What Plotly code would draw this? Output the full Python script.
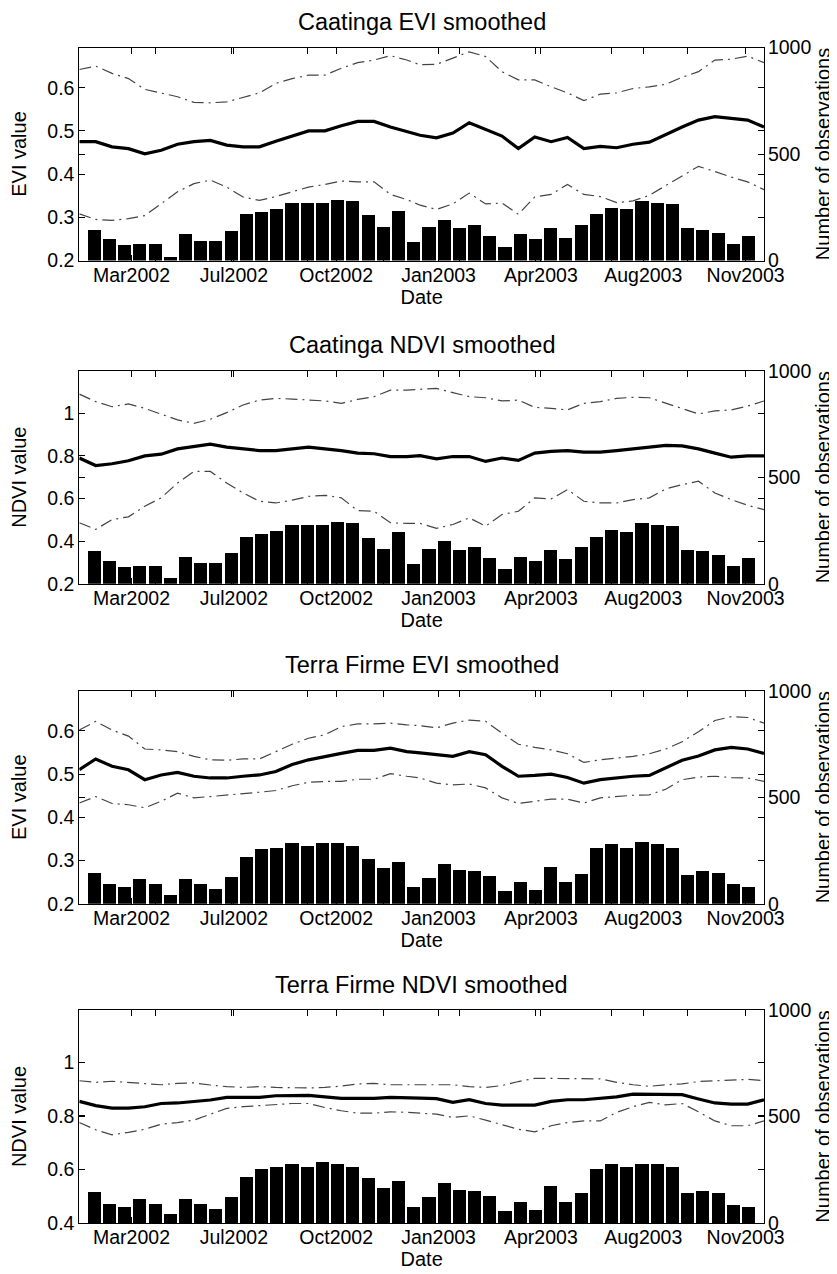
import datetime as dt
import plotly.graph_objects as go

# ---------------- data ----------------
# MODIS 16-day composite dates used by the smoothed curves
line_doy_2002 = list(range(33, 354, 16))
line_doy_2003 = list(range(1, 338, 16))
line_dates = ([dt.date(2002, 1, 1) + dt.timedelta(days=d - 1) for d in line_doy_2002] +
              [dt.date(2003, 1, 1) + dt.timedelta(days=d - 1) for d in line_doy_2003])

# bar (observation count) index
bar_index = list(range(1, 45))

tick_dates = ["2002-03-25", "2002-07-03", "2002-10-11", "2003-01-19",
              "2003-04-29", "2003-08-07", "2003-11-15"]
tick_labels = ["Mar2002", "Jul2002", "Oct2002", "Jan2003", "Apr2003", "Aug2003", "Nov2003"]

# Caatinga EVI
caat_evi_mean = [0.475, 0.475, 0.463, 0.459, 0.447, 0.455, 0.469, 0.475, 0.478, 0.467, 0.463,
                 0.463, 0.476, 0.488, 0.500, 0.500, 0.512, 0.522, 0.522, 0.509, 0.498,
                 0.490, 0.484, 0.495, 0.519, 0.503, 0.488, 0.459, 0.486, 0.475, 0.485,
                 0.459, 0.464, 0.461, 0.469, 0.474, 0.492, 0.509, 0.525, 0.533, 0.529, 0.525, 0.509]
caat_evi_upper = [0.642, 0.650, 0.633, 0.621, 0.596, 0.587, 0.579, 0.566, 0.565, 0.567, 0.577,
                  0.588, 0.610, 0.621, 0.629, 0.629, 0.645, 0.658, 0.664, 0.674, 0.664,
                  0.653, 0.654, 0.668, 0.683, 0.672, 0.637, 0.618, 0.618, 0.602, 0.588,
                  0.570, 0.585, 0.588, 0.598, 0.602, 0.608, 0.624, 0.637, 0.664, 0.666, 0.673, 0.658]
caat_evi_lower = [0.308, 0.295, 0.293, 0.297, 0.304, 0.331, 0.359, 0.378, 0.386, 0.370, 0.347,
                  0.339, 0.348, 0.359, 0.370, 0.376, 0.384, 0.382, 0.382, 0.353, 0.341,
                  0.328, 0.318, 0.331, 0.356, 0.331, 0.333, 0.307, 0.347, 0.353, 0.376,
                  0.353, 0.348, 0.334, 0.338, 0.351, 0.374, 0.397, 0.418, 0.406, 0.393, 0.382, 0.364]
caat_evi_nobs = [147, 102, 74, 82, 82, 20, 125, 94, 94, 139, 221, 229, 243, 274, 274, 274, 288,
                 281, 215, 161, 237, 88, 159, 194, 154, 169, 118, 66, 125, 102, 154, 110, 169,
                 221, 251, 243, 282, 274, 266, 154, 147, 133, 82, 118]

# Caatinga NDVI
caat_ndvi_mean = [0.790, 0.755, 0.763, 0.777, 0.800, 0.808, 0.833, 0.844, 0.855, 0.841, 0.833,
                  0.825, 0.825, 0.833, 0.841, 0.833, 0.825, 0.813, 0.810, 0.797, 0.797,
                  0.801, 0.786, 0.797, 0.797, 0.774, 0.790, 0.779, 0.813, 0.821, 0.825,
                  0.818, 0.818, 0.825, 0.833, 0.841, 0.849, 0.847, 0.833, 0.813, 0.794, 0.800, 0.800]
caat_ndvi_upper = [1.090, 1.055, 1.031, 1.044, 1.023, 0.997, 0.969, 0.953, 0.972, 1.003, 1.039,
                   1.062, 1.070, 1.067, 1.062, 1.058, 1.047, 1.065, 1.078, 1.109, 1.109,
                   1.114, 1.117, 1.097, 1.078, 1.073, 1.058, 1.062, 1.028, 1.023, 1.016,
                   1.047, 1.055, 1.070, 1.075, 1.073, 1.047, 1.023, 0.997, 1.011, 1.016, 1.034, 1.058]
caat_ndvi_lower = [0.486, 0.455, 0.501, 0.514, 0.564, 0.603, 0.673, 0.727, 0.727, 0.673, 0.626,
                   0.587, 0.579, 0.592, 0.610, 0.615, 0.603, 0.543, 0.540, 0.486, 0.483,
                   0.483, 0.460, 0.478, 0.509, 0.470, 0.525, 0.540, 0.603, 0.598, 0.642,
                   0.587, 0.579, 0.579, 0.595, 0.603, 0.645, 0.665, 0.681, 0.626, 0.595, 0.568, 0.548]
caat_ndvi_nobs = [153, 109, 78, 86, 86, 28, 129, 98, 98, 145, 223, 234, 250, 278, 278, 278, 292,
                  285, 218, 165, 242, 94, 165, 204, 161, 173, 122, 70, 129, 106, 158, 117, 173,
                  223, 254, 246, 285, 278, 270, 161, 153, 137, 86, 122]

# Terra Firme EVI
tf_evi_mean = [0.510, 0.535, 0.518, 0.510, 0.487, 0.498, 0.504, 0.495, 0.491, 0.491, 0.495,
               0.498, 0.506, 0.522, 0.533, 0.541, 0.548, 0.555, 0.555, 0.560, 0.552,
               0.549, 0.545, 0.541, 0.552, 0.545, 0.518, 0.495, 0.497, 0.500, 0.492,
               0.479, 0.487, 0.491, 0.495, 0.497, 0.514, 0.532, 0.542, 0.556, 0.562, 0.558, 0.548]
tf_evi_upper = [0.602, 0.622, 0.602, 0.588, 0.558, 0.556, 0.552, 0.541, 0.533, 0.532, 0.535,
                0.535, 0.552, 0.569, 0.583, 0.591, 0.610, 0.616, 0.616, 0.618, 0.614,
                0.612, 0.607, 0.618, 0.625, 0.622, 0.595, 0.569, 0.562, 0.556, 0.547,
                0.527, 0.533, 0.537, 0.541, 0.547, 0.558, 0.575, 0.598, 0.624, 0.633, 0.631, 0.618]
tf_evi_lower = [0.433, 0.448, 0.432, 0.429, 0.422, 0.437, 0.456, 0.445, 0.448, 0.451, 0.454,
                0.458, 0.462, 0.473, 0.481, 0.483, 0.483, 0.488, 0.488, 0.501, 0.495,
                0.491, 0.479, 0.475, 0.477, 0.468, 0.445, 0.432, 0.437, 0.442, 0.442,
                0.433, 0.445, 0.448, 0.451, 0.452, 0.465, 0.487, 0.493, 0.495, 0.492, 0.491, 0.483]
tf_evi_nobs = [145, 95, 80, 117, 95, 44, 117, 95, 72, 129, 220, 257, 265, 285, 270, 285, 285,
               270, 212, 168, 198, 80, 123, 190, 161, 153, 133, 59, 103, 67, 176, 103, 140,
               265, 281, 265, 289, 281, 265, 137, 156, 145, 95, 78]

# Terra Firme NDVI
tf_ndvi_mean = [0.854, 0.838, 0.829, 0.829, 0.834, 0.846, 0.848, 0.853, 0.859, 0.869, 0.869,
                0.869, 0.875, 0.876, 0.876, 0.871, 0.865, 0.865, 0.865, 0.869, 0.866,
                0.866, 0.864, 0.850, 0.860, 0.846, 0.840, 0.840, 0.840, 0.854, 0.860,
                0.860, 0.865, 0.871, 0.881, 0.881, 0.881, 0.879, 0.863, 0.848, 0.844, 0.844, 0.860]
tf_ndvi_upper = [0.931, 0.925, 0.929, 0.925, 0.919, 0.916, 0.921, 0.923, 0.915, 0.909, 0.906,
                 0.909, 0.906, 0.904, 0.904, 0.906, 0.911, 0.919, 0.921, 0.916, 0.916,
                 0.916, 0.916, 0.916, 0.909, 0.906, 0.913, 0.928, 0.940, 0.940, 0.940,
                 0.940, 0.938, 0.925, 0.916, 0.910, 0.916, 0.919, 0.928, 0.931, 0.934, 0.936, 0.931]
tf_ndvi_lower = [0.775, 0.748, 0.729, 0.738, 0.750, 0.769, 0.775, 0.784, 0.806, 0.828, 0.834,
                 0.838, 0.841, 0.846, 0.846, 0.831, 0.819, 0.810, 0.810, 0.815, 0.813,
                 0.810, 0.806, 0.794, 0.800, 0.784, 0.766, 0.750, 0.740, 0.763, 0.775,
                 0.781, 0.781, 0.813, 0.834, 0.850, 0.841, 0.846, 0.815, 0.781, 0.763, 0.763, 0.781]
tf_ndvi_nobs = [145, 91, 76, 115, 91, 43, 115, 91, 68, 123, 217, 255, 263, 279, 263, 287, 279,
                263, 209, 165, 197, 76, 123, 189, 157, 150, 129, 55, 99, 63, 173, 99, 139,
                255, 279, 263, 279, 279, 263, 139, 150, 139, 83, 76]

panel_titles = ["Caatinga EVI smoothed", "Caatinga NDVI smoothed",
                "Terra Firme EVI smoothed", "Terra Firme NDVI smoothed"]
value_labels = ["EVI value", "NDVI value", "EVI value", "NDVI value"]
count_label = "Number of observations"
x_label = "Date"

evi_ticks = [0.2, 0.3, 0.4, 0.5, 0.6]
ndvi_ticks_a = [0.2, 0.4, 0.6, 0.8, 1.0]
ndvi_ticks_b = [0.4, 0.6, 0.8, 1.0]
count_ticks = [0, 500, 1000]

panels = [
    dict(mean=caat_evi_mean, up=caat_evi_upper, lo=caat_evi_lower, n=caat_evi_nobs,
         yrange=[0.2, 0.693], yticks=evi_ticks),
    dict(mean=caat_ndvi_mean, up=caat_ndvi_upper, lo=caat_ndvi_lower, n=caat_ndvi_nobs,
         yrange=[0.2, 1.2], yticks=ndvi_ticks_a),
    dict(mean=tf_evi_mean, up=tf_evi_upper, lo=tf_evi_lower, n=tf_evi_nobs,
         yrange=[0.2, 0.693], yticks=evi_ticks),
    dict(mean=tf_ndvi_mean, up=tf_ndvi_upper, lo=tf_ndvi_lower, n=tf_ndvi_nobs,
         yrange=[0.4, 1.195], yticks=ndvi_ticks_b),
]

# ---------------- layout geometry ----------------
# page pixels of the target; the html body adds an 8 px margin around the figure
OFF = 8
W, H = 837 - OFF, 1274 - OFF
x_dom = [(79.3 - OFF) / W, (764.0 - OFF) / W]
tops_px = [47.5, 370.7, 690.7, 1010.0]
height_px = 213.0

FONT = "Liberation Sans, Arial, Helvetica, sans-serif"
TICKFONT = dict(family=FONT, size=19.5, color="black")
LABFONT = dict(family=FONT, size=20, color="black")

fig = go.Figure()
layout = dict(
    width=W, height=H, margin=dict(l=0, r=0, t=0, b=0, autoexpand=False),
    paper_bgcolor="white", plot_bgcolor="white", showlegend=False,
    template="none", bargap=0, annotations=[],
)

dash_style = "12px,5px,2px,5px"

for i, p in enumerate(panels):
    top = tops_px[i] - OFF
    y_dom = [1 - (top + height_px) / H, 1 - top / H]
    xb, xl = 2 * i + 1, 2 * i + 2   # base (bars) / overlay (dates)
    yb, yl = 2 * i + 1, 2 * i + 2   # base (counts) / overlay (values)
    sxb = "" if xb == 1 else str(xb)
    syb = "" if yb == 1 else str(yb)

    fig.add_trace(go.Bar(x=bar_index, y=p["n"], width=0.86,
                         marker=dict(color="black", line=dict(width=0)),
                         xaxis="x" + sxb, yaxis="y" + syb))
    for key, w, dash, col in [("up", 1.2, dash_style, "#444444"),
                              ("lo", 1.2, dash_style, "#444444"),
                              ("mean", 3.2, "solid", "black")]:
        fig.add_trace(go.Scatter(x=line_dates, y=p[key], mode="lines",
                                 line=dict(color=col, width=w, dash=dash),
                                 xaxis="x" + str(xl), yaxis="y" + str(yl)))

    common = dict(showgrid=False, zeroline=False, showline=True, linecolor="black",
                  linewidth=1, ticks="inside", ticklen=6, tickcolor="black",
                  tickwidth=1, mirror="ticks", tickfont=TICKFONT, automargin=False)

    layout["xaxis" + sxb] = dict(common, domain=x_dom, anchor="y" + syb, range=[0, 45],
                                 tickvals=[0, 5, 10, 15, 20, 25, 30, 35, 40, 45],
                                 showticklabels=False)
    layout["yaxis" + syb] = dict(common, domain=y_dom, anchor="x" + sxb, side="right",
                                 range=[0, 1000], tickvals=count_ticks,
                                 ticktext=[str(v) for v in count_ticks],
                                 ticklabelstandoff=-1,
                                 title=dict(text=count_label, font=LABFONT, standoff=5))
    layout["xaxis" + str(xl)] = dict(common, domain=x_dom, anchor="y" + str(yl),
                                     overlaying="x" + sxb, type="date",
                                     range=[line_dates[0].isoformat(), line_dates[-1].isoformat()],
                                     tickvals=tick_dates, ticktext=tick_labels,
                                     ticklabelstandoff=-3,
                                     title=dict(text=x_label, font=LABFONT, standoff=4))
    layout["yaxis" + str(yl)] = dict(common, domain=y_dom, anchor="x" + str(xl),
                                     overlaying="y" + syb, side="left",
                                     range=p["yrange"], tickvals=p["yticks"],
                                     ticktext=[("%g" % v) for v in p["yticks"]],
                                     title=dict(text=value_labels[i], font=LABFONT, standoff=15))
    layout["annotations"].append(dict(
        text=panel_titles[i], xref="paper", yref="paper",
        x=(x_dom[0] + x_dom[1]) / 2, y=1 - (top - 25.5) / H,
        xanchor="center", yanchor="middle", showarrow=False, borderpad=0,
        font=dict(family=FONT, size=23.5, color="black")))

fig.update_layout(**layout)
fig.write_html("out.html")
